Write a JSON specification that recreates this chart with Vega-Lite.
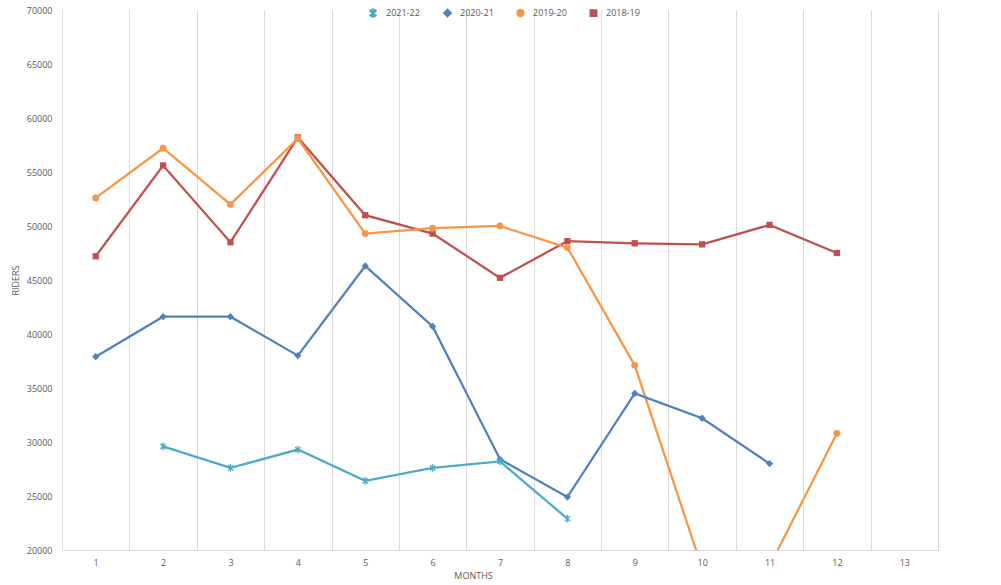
{
  "$schema": "https://vega.github.io/schema/vega-lite/v6.json",
  "width": 876,
  "height": 540,
  "autosize": {"type": "none"},
  "padding": {"left": 62, "top": 10, "right": 63, "bottom": 35},
  "config": {"view": {"stroke": null}, "font": "Open Sans"},
  "data": {
    "values": [
      {"season": "2018-19", "month": 1, "riders": 47200},
      {"season": "2018-19", "month": 2, "riders": 55600},
      {"season": "2018-19", "month": 3, "riders": 48500},
      {"season": "2018-19", "month": 4, "riders": 58200},
      {"season": "2018-19", "month": 5, "riders": 51000},
      {"season": "2018-19", "month": 6, "riders": 49300},
      {"season": "2018-19", "month": 7, "riders": 45200},
      {"season": "2018-19", "month": 8, "riders": 48600},
      {"season": "2018-19", "month": 9, "riders": 48400},
      {"season": "2018-19", "month": 10, "riders": 48300},
      {"season": "2018-19", "month": 11, "riders": 50100},
      {"season": "2018-19", "month": 12, "riders": 47500},
      {"season": "2019-20", "month": 1, "riders": 52600},
      {"season": "2019-20", "month": 2, "riders": 57200},
      {"season": "2019-20", "month": 3, "riders": 52000},
      {"season": "2019-20", "month": 4, "riders": 58100},
      {"season": "2019-20", "month": 5, "riders": 49300},
      {"season": "2019-20", "month": 6, "riders": 49800},
      {"season": "2019-20", "month": 7, "riders": 50000},
      {"season": "2019-20", "month": 8, "riders": 48000},
      {"season": "2019-20", "month": 9, "riders": 37100},
      {"season": "2019-20", "month": 10, "riders": 18300},
      {"season": "2019-20", "month": 11, "riders": 18500},
      {"season": "2019-20", "month": 12, "riders": 30800},
      {"season": "2020-21", "month": 1, "riders": 37900},
      {"season": "2020-21", "month": 2, "riders": 41600},
      {"season": "2020-21", "month": 3, "riders": 41600},
      {"season": "2020-21", "month": 4, "riders": 38000},
      {"season": "2020-21", "month": 5, "riders": 46300},
      {"season": "2020-21", "month": 6, "riders": 40700},
      {"season": "2020-21", "month": 7, "riders": 28400},
      {"season": "2020-21", "month": 8, "riders": 24900},
      {"season": "2020-21", "month": 9, "riders": 34500},
      {"season": "2020-21", "month": 10, "riders": 32200},
      {"season": "2020-21", "month": 11, "riders": 28000},
      {"season": "2021-22", "month": 2, "riders": 29600},
      {"season": "2021-22", "month": 3, "riders": 27600},
      {"season": "2021-22", "month": 4, "riders": 29300},
      {"season": "2021-22", "month": 5, "riders": 26400},
      {"season": "2021-22", "month": 6, "riders": 27600},
      {"season": "2021-22", "month": 7, "riders": 28200},
      {"season": "2021-22", "month": 8, "riders": 22900}
    ]
  },
  "encoding": {
    "x": {
      "field": "month",
      "type": "ordinal",
      "scale": {"type": "band", "domain": [1, 2, 3, 4, 5, 6, 7, 8, 9, 10, 11, 12, 13], "paddingInner": 0, "paddingOuter": 0},
      "axis": {
        "title": "MONTHS",
        "labelAngle": 0,
        "tickBand": "extent",
        "grid": true,
        "gridColor": "#d9d9d9",
        "gridWidth": 1,
        "ticks": false,
        "domainColor": "#d9d9d9",
        "labelColor": "#595959",
        "labelFontSize": 9,
        "labelPadding": 8,
        "titleFontSize": 9,
        "titleFontWeight": "normal",
        "titleColor": "#595959",
        "titlePadding": 4,
        "titleX": 411
      }
    },
    "y": {
      "field": "riders",
      "type": "quantitative",
      "scale": {"domain": [20000, 70000], "nice": false, "zero": false},
      "axis": {
        "title": "RIDERS",
        "values": [20000, 25000, 30000, 35000, 40000, 45000, 50000, 55000, 60000, 65000, 70000],
        "format": "d",
        "grid": false,
        "domain": false,
        "ticks": false,
        "labelColor": "#595959",
        "labelFontSize": 9,
        "labelPadding": 10,
        "titleFontSize": 9,
        "titleFontWeight": "normal",
        "titleColor": "#595959",
        "titlePadding": 6
      }
    },
    "color": {
      "field": "season",
      "type": "nominal",
      "scale": {"domain": ["2021-22", "2020-21", "2019-20", "2018-19"], "range": ["#4bacc6", "#4f81bd", "#f79646", "#c0504d"]},
      "legend": {
        "orient": "none",
        "legendX": 306,
        "legendY": -2,
        "direction": "horizontal",
        "title": null,
        "padding": 0,
        "labelFontSize": 9,
        "labelColor": "#595959",
        "labelOffset": 8,
        "columnPadding": 20,
        "symbolSize": 45,
        "symbolStrokeWidth": 1.5
      }
    }
  },
  "layer": [
    {"mark": {"type": "line", "strokeWidth": 2.25, "clip": true}},
    {
      "mark": {"type": "point", "filled": true, "opacity": 1, "clip": true},
      "encoding": {
        "size": {
          "field": "season",
          "type": "nominal",
          "scale": {"domain": ["2021-22", "2020-21", "2019-20", "2018-19"], "range": [60, 40, 42, 45]},
          "legend": null
        },
        "shape": {
          "field": "season",
          "type": "nominal",
          "scale": {
            "domain": ["2021-22", "2020-21", "2019-20", "2018-19"],
            "range": [
              "M-0.17,-1L0.17,-1L0.17,1L-0.17,1Z M-0.56,-0.8L0.8,0.56L0.56,0.8L-0.8,-0.56Z M0.56,-0.8L0.8,-0.56L-0.56,0.8L-0.8,0.56Z",
              "diamond",
              "circle",
              "square"
            ]
          },
          "legend": {
            "orient": "none",
            "legendX": 306,
            "legendY": -2,
            "direction": "horizontal",
            "title": null,
            "padding": 0,
            "labelFontSize": 9,
            "labelColor": "#595959",
            "labelOffset": 8,
            "columnPadding": 20,
            "symbolSize": 45,
            "symbolStrokeWidth": 1.5
          }
        }
      }
    }
  ]
}
